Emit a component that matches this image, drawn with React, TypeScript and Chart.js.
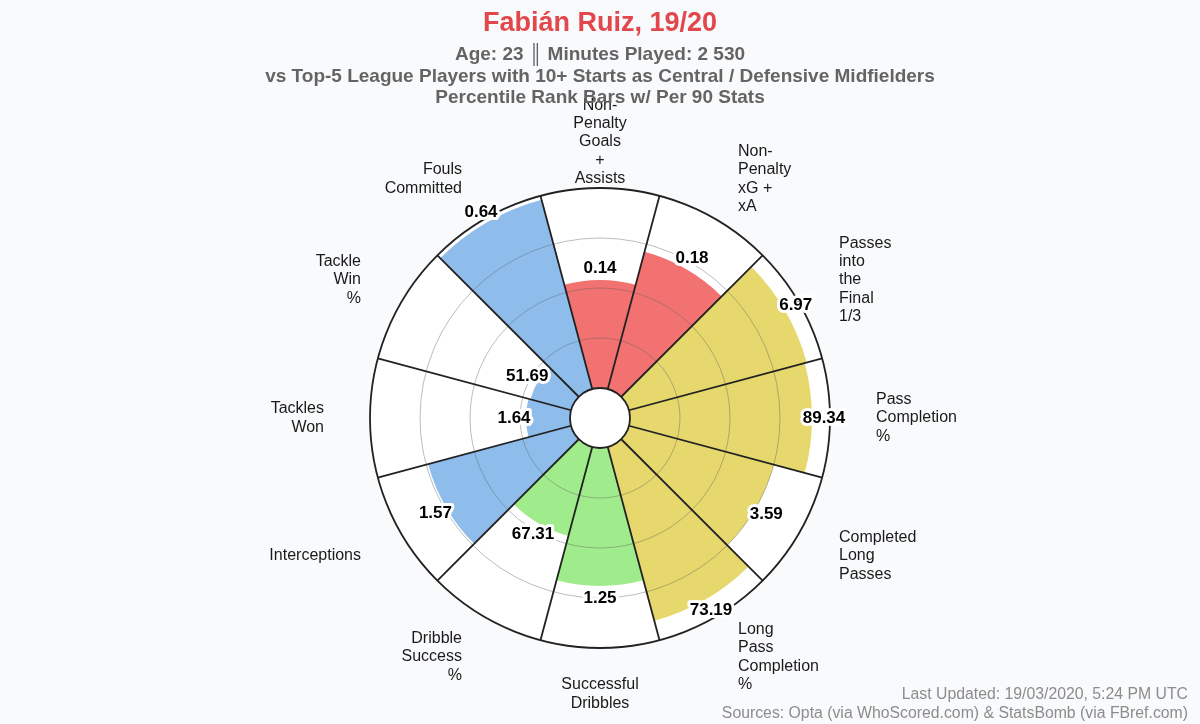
import React, { useEffect, useRef } from 'react';
import { Chart, registerables } from 'chart.js';

Chart.register(...registerables);

// ---- Data ----
const categoryLines: string[][] = [
  ['Non-', 'Penalty', 'Goals', '+', 'Assists'],
  ['Non-', 'Penalty', 'xG +', 'xA'],
  ['Passes', 'into', 'the', 'Final', '1/3'],
  ['Pass', 'Completion', '%'],
  ['Completed', 'Long', 'Passes'],
  ['Long', 'Pass', 'Completion', '%'],
  ['Successful', 'Dribbles'],
  ['Dribble', 'Success', '%'],
  ['Interceptions'],
  ['Tackles', 'Won'],
  ['Tackle', 'Win', '%'],
  ['Fouls', 'Committed'],
];
const categories: string[] = categoryLines.map((l) => l.join(' '));
const percentiles: number[] = [54, 71, 92, 91, 75, 90, 69, 46, 74, 22, 21, 98];
const statValues: string[] = ['0.14', '0.18', '6.97', '89.34', '3.59', '73.19', '1.25', '67.31', '1.57', '1.64', '51.69', '0.64'];
const statGroups: string[] = ['attack', 'attack', 'pass', 'pass', 'pass', 'pass', 'dribble', 'dribble', 'defend', 'defend', 'defend', 'defend'];
const gridTicks: number[] = [25, 50, 75, 100];

const titleText = 'Fabián Ruiz, 19/20';
const subtitleLines: string[] = [
  'Age: 23 ║ Minutes Played: 2 530',
  'vs Top-5 League Players with 10+ Starts as Central / Defensive Midfielders',
  'Percentile Rank Bars w/ Per 90 Stats',
];
const footerLines: string[] = [
  'Last Updated: 19/03/2020, 5:24 PM UTC',
  'Sources: Opta (via WhoScored.com) & StatsBomb (via FBref.com)',
];

// ---- Styles ----
const FONT = '"Liberation Sans", Arial, Helvetica, sans-serif';
const groupColors: Record<string, string> = {
  attack: '#f27272',
  pass: '#e6d86c',
  dribble: '#a0ec8c',
  defend: '#8ebdec',
};
const LABEL_OFFSET = 6;

const pizzaPlugin = {
  id: 'pizza',
  beforeDraw(chart: any) {
    const ctx = chart.ctx;
    ctx.save();
    ctx.fillStyle = '#f9fafc';
    ctx.fillRect(0, 0, chart.width, chart.height);
    ctx.restore();
  },
  beforeDatasetsDraw(chart: any) {
    const s = chart.scales.r;
    const ctx = chart.ctx;
    ctx.save();
    ctx.beginPath();
    ctx.arc(s.xCenter, s.yCenter, s.drawingArea, 0, Math.PI * 2);
    ctx.fillStyle = '#ffffff';
    ctx.fill();
    ctx.restore();
  },
  afterDraw(chart: any) {
    const s = chart.scales.r;
    const ctx = chart.ctx;
    const n = categories.length;
    const half = Math.PI / n;
    ctx.save();

    // center hole
    const holeR = s.getDistanceFromCenterForValue(0);
    ctx.beginPath();
    ctx.arc(s.xCenter, s.yCenter, holeR, 0, Math.PI * 2);
    ctx.fillStyle = '#ffffff';
    ctx.fill();
    ctx.lineWidth = 1.8;
    ctx.strokeStyle = '#222222';
    ctx.stroke();

    // value labels
    ctx.font = `bold 17px ${FONT}`;
    ctx.textAlign = 'center';
    ctx.textBaseline = 'middle';
    ctx.lineJoin = 'round';
    for (let i = 0; i < n; i++) {
      const r = s.getDistanceFromCenterForValue(percentiles[i] + LABEL_OFFSET);
      const p = s.getPointPosition(i, r, half);
      ctx.lineWidth = 6;
      ctx.strokeStyle = '#ffffff';
      ctx.strokeText(statValues[i], p.x, p.y);
      ctx.fillStyle = '#000000';
      ctx.fillText(statValues[i], p.x, p.y);
    }

    // category labels
    ctx.font = `16px ${FONT}`;
    ctx.fillStyle = '#1a1a1a';
    const lh = 18.4;
    for (let i = 0; i < n; i++) {
      const p = s.getPointPosition(i, s.drawingArea + 46, half);
      const dx = p.x - s.xCenter;
      ctx.textAlign = dx > 1 ? 'left' : dx < -1 ? 'right' : 'center';
      const lines = categoryLines[i];
      const y0 = p.y - ((lines.length - 1) * lh) / 2;
      lines.forEach((t, k) => ctx.fillText(t, p.x, y0 + k * lh));
    }

    // title
    ctx.textAlign = 'center';
    ctx.fillStyle = '#e2474b';
    ctx.font = `bold 27px ${FONT}`;
    ctx.fillText(titleText, 600, 24);
    ctx.fillStyle = '#646464';
    ctx.font = `bold 19px ${FONT}`;
    subtitleLines.forEach((t, k) => ctx.fillText(t, 600, 55 + k * 21.5));

    // footer
    ctx.textAlign = 'right';
    ctx.fillStyle = '#8c8c8c';
    ctx.font = `15.8px ${FONT}`;
    footerLines.forEach((t, k) => ctx.fillText(t, 1188, 695 + k * 19));

    ctx.restore();
  },
};

export default function App() {
  const ref = useRef<HTMLCanvasElement>(null);
  useEffect(() => {
    if (!ref.current) return;
    const chart = new Chart(ref.current, {
      type: 'polarArea',
      data: {
        labels: categories,
        datasets: [
          {
            data: percentiles,
            backgroundColor: statGroups.map((g) => groupColors[g]),
            borderWidth: 0,
          },
        ],
      },
      options: {
        responsive: false,
        animation: false,
        layout: { padding: { left: 370, right: 370, top: 188, bottom: 76 } },
        plugins: {
          legend: { display: false },
          tooltip: { enabled: false },
          title: { display: false },
        },
        scales: {
          r: {
            min: -15,
            max: 100,
            startAngle: -15,
            afterBuildTicks: (scale: any) => {
              scale.ticks = gridTicks.map((v) => ({ value: v }));
            },
            ticks: { display: false },
            pointLabels: { display: false },
            grid: {
              z: 1,
              circular: true,
              color: (c: any) => (c.tick && c.tick.value === 100 ? '#222222' : 'rgba(90,90,90,0.4)'),
              lineWidth: (c: any) => (c.tick && c.tick.value === 100 ? 1.8 : 1),
            },
            angleLines: { display: true, color: '#222222', lineWidth: 1.8 },
          },
        },
      },
      plugins: [pizzaPlugin],
    } as any);
    return () => chart.destroy();
  }, []);
  return (
    <div style={{ position: 'fixed', left: 0, top: 0, width: 1200, height: 724, background: '#f9fafc' }}>
      <canvas ref={ref} width={1200} height={724} style={{ display: 'block', width: 1200, height: 724 }} />
    </div>
  );
}
